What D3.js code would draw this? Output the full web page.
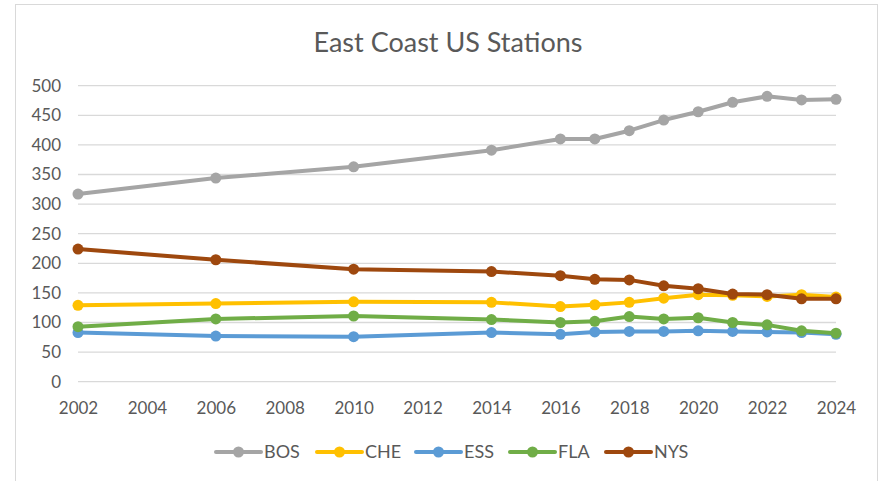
<!DOCTYPE html>
<html>
<head>
<meta charset="utf-8">
<script src="https://cdn.jsdelivr.net/npm/d3@7"></script>
<style>
  html, body { margin: 0; padding: 0; background: #fff; }
  text { font-family: "Lato", "Open Sans", sans-serif; fill: #595959; }
</style>
</head>
<body>
<div id="chart"></div>
<script>
const width = 886;
const height = 481;

// data
const years = [2002, 2006, 2010, 2014, 2016, 2017, 2018, 2019, 2020, 2021, 2022, 2023, 2024];
const bos = [317, 344, 363, 391, 410, 410, 424, 442, 456, 472, 482, 476, 477];
const che = [129, 132, 135, 134, 127, 130, 134, 141, 147, 146, 144, 147, 143];
const ess = [83, 77, 76, 83, 80, 84, 85, 85, 86, 85, 84, 83, 80];
const fla = [93, 106, 111, 105, 100, 102, 110, 106, 108, 100, 96, 86, 82];
const nys = [224, 206, 190, 186, 179, 173, 172, 162, 157, 148, 147, 140, 140];
const seriesNames = ["BOS", "CHE", "ESS", "FLA", "NYS"];
const seriesValues = [bos, che, ess, fla, nys];
const colors = ["#A5A5A5", "#FFC000", "#5B9BD5", "#70AD47", "#9E480E"];
const xTicks = d3.range(2002, 2025, 2);
const yTicks = d3.range(0, 501, 50);

const svg = d3.select("#chart")
    .append("svg")
    .attr("width", width)
    .attr("height", height);

// frame
svg.append("rect")
    .attr("x", 15.5).attr("y", 4.5)
    .attr("width", 862).attr("height", 480)
    .attr("fill", "#fff")
    .attr("stroke", "#D9D9D9")
    .attr("stroke-width", 1);

// title
svg.append("text")
    .attr("x", 448).attr("y", 52)
    .attr("text-anchor", "middle")
    .style("font-size", "27px")
    .text("East Coast US Stations");

const x = d3.scaleLinear().domain([2002, 2024]).range([78, 836]);
const y = d3.scaleLinear().domain([0, 500]).range([381.7, 85.7]);

// grid
svg.append("g")
    .selectAll("line")
    .data(yTicks)
    .join("line")
    .attr("x1", x(2002)).attr("x2", x(2024))
    .attr("y1", d => y(d)).attr("y2", d => y(d))
    .attr("stroke", "#D9D9D9")
    .attr("stroke-width", 1.3);

// y axis labels
const yAxis = svg.append("g")
    .attr("transform", "translate(61,0)")
    .call(d3.axisLeft(y).tickValues(yTicks).tickSize(0).tickPadding(0));
yAxis.select(".domain").remove();
yAxis.selectAll("text")
    .style("font-size", "17px")
    .style("font-family", null)
    .attr("fill", null);

// x axis labels
const xAxis = svg.append("g")
    .attr("transform", `translate(0,${y(0)})`)
    .call(d3.axisBottom(x).tickValues(xTicks).tickFormat(d3.format("d")).tickSize(0).tickPadding(20));
xAxis.select(".domain").remove();
xAxis.selectAll("text")
    .style("font-size", "17px")
    .style("font-family", null)
    .attr("fill", null);

// lines
const line = d3.line()
    .x((d, i) => x(years[i]))
    .y(d => y(d));

seriesValues.forEach((vals, k) => {
    const g = svg.append("g");
    g.append("path")
        .attr("d", line(vals))
        .attr("fill", "none")
        .attr("stroke", colors[k])
        .attr("stroke-width", 4)
        .attr("stroke-linejoin", "round");
    g.selectAll("circle")
        .data(vals)
        .join("circle")
        .attr("cx", (d, i) => x(years[i]))
        .attr("cy", d => y(d))
        .attr("r", 5.5)
        .attr("fill", colors[k]);
});

// legend
const legendX = [216, 317, 416, 510, 606];
const legend = svg.append("g")
    .selectAll("g")
    .data(seriesNames)
    .join("g")
    .attr("transform", (d, i) => `translate(${legendX[i]},452)`);

legend.append("line")
    .attr("x1", 0).attr("x2", 45)
    .attr("stroke", (d, i) => colors[i])
    .attr("stroke-width", 4)
    .attr("stroke-linecap", "round");
legend.append("circle")
    .attr("cx", 22.5)
    .attr("r", 5.5)
    .attr("fill", (d, i) => colors[i]);
legend.append("text")
    .attr("x", 48)
    .attr("dy", "0.35em")
    .style("font-size", "18px")
    .text(d => d);
</script>
</body>
</html>
